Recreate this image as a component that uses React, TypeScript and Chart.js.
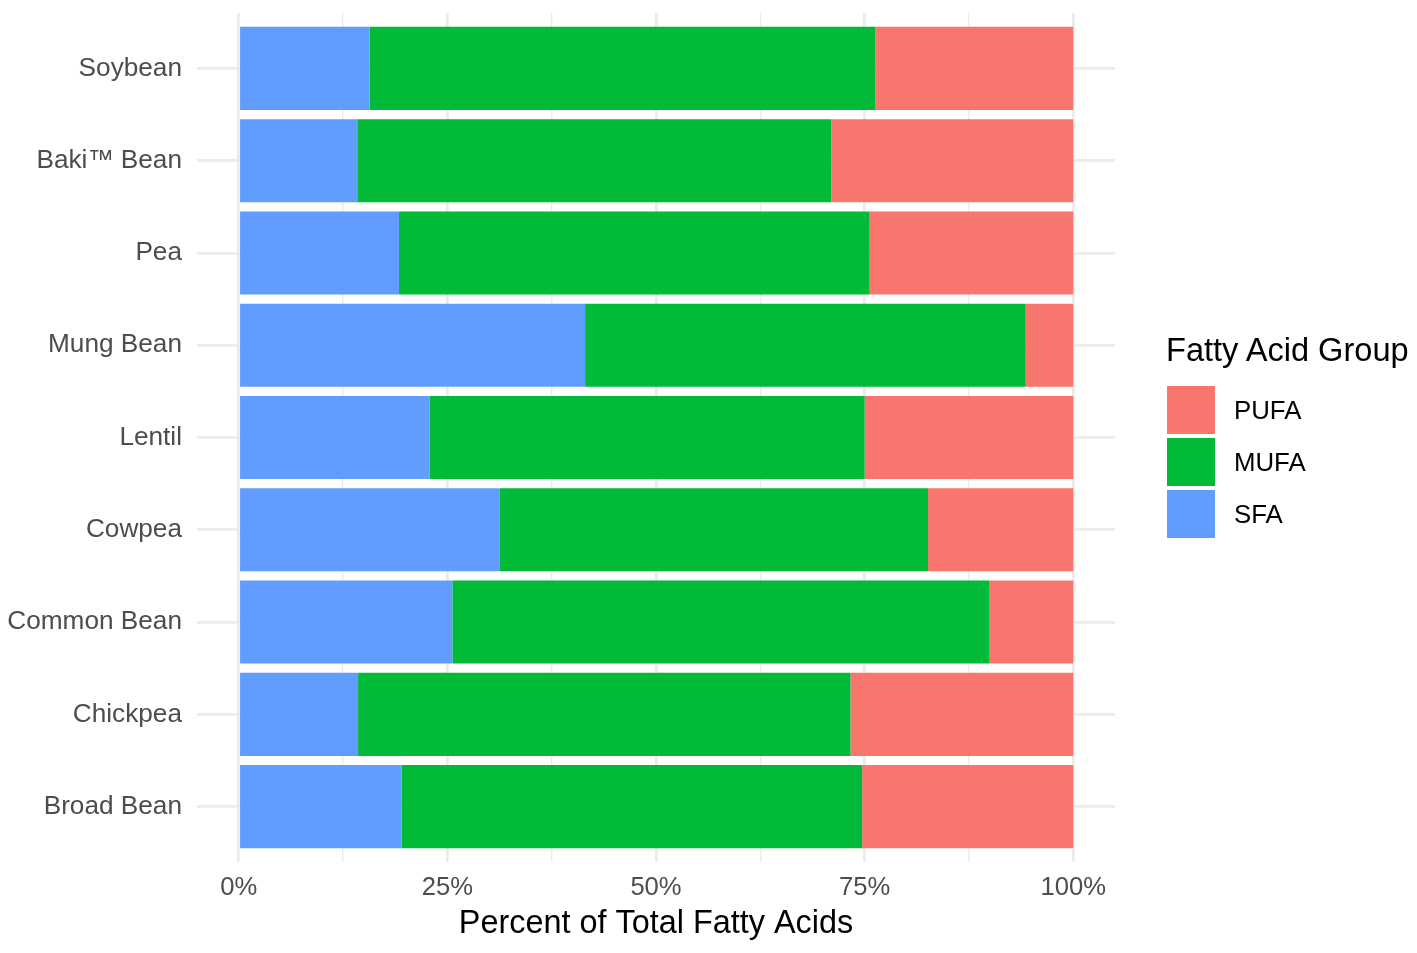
import React, { useEffect, useRef } from 'react';
import { Chart, registerables } from 'chart.js';

Chart.register(...registerables);

const categories = ['Soybean', 'Baki™ Bean', 'Pea', 'Mung Bean', 'Lentil', 'Cowpea', 'Common Bean', 'Chickpea', 'Broad Bean'];
const sfaValues = [15.7, 14.2, 19.2, 41.5, 22.9, 31.3, 25.6, 14.3, 19.5];
const mufaValues = [60.6, 56.8, 56.4, 52.8, 52.1, 51.3, 64.3, 59.0, 55.2];
const pufaValues = [23.7, 29.0, 24.4, 5.7, 25.0, 17.4, 10.1, 26.7, 25.3];
const xTicks = [0, 12.5, 25, 37.5, 50, 62.5, 75, 87.5, 100];

const series = [
    { label: 'SFA', data: sfaValues, color: '#619CFF' },
    { label: 'MUFA', data: mufaValues, color: '#00BA38' },
    { label: 'PUFA', data: pufaValues, color: '#F8766D' },
];

const FONT = "'Liberation Sans', Arial, sans-serif";

const FattyAcidChart: React.FC = () => {
    const chartRef = useRef<HTMLCanvasElement>(null);
    const chartInstance = useRef<Chart | null>(null);

    useEffect(() => {
        if (chartInstance.current) {
            chartInstance.current.destroy();
        }
        if (chartRef.current) {
            const ctx = chartRef.current.getContext('2d');
            if (ctx) {
                chartInstance.current = new Chart(ctx, {
                    type: 'bar',
                    data: {
                        labels: categories,
                        datasets: series.map((s) => ({
                            label: s.label,
                            data: s.data,
                            backgroundColor: s.color,
                            borderWidth: 0,
                            barPercentage: 0.9,
                            categoryPercentage: 1,
                        })),
                    },
                    options: {
                        indexAxis: 'y',
                        responsive: true,
                        maintainAspectRatio: false,
                        animation: false,
                        layout: { padding: { top: 13, right: 302, bottom: 0, left: 0 } },
                        plugins: {
                            legend: { display: false },
                            tooltip: { enabled: false },
                        },
                        scales: {
                            x: {
                                type: 'linear',
                                stacked: true,
                                min: -5,
                                max: 105,
                                afterBuildTicks: (scale: any) => {
                                    scale.ticks = xTicks.map((v) => ({ value: v }));
                                },
                                afterFit: (scale: any) => {
                                    scale.height = 91;
                                    scale.paddingLeft = 0;
                                    scale.paddingRight = 0;
                                },
                                border: { display: false },
                                grid: {
                                    color: '#ebebeb',
                                    drawTicks: false,
                                    lineWidth: (c: any) => (c.tick && c.tick.value % 25 === 0 ? 2.7 : 1.4),
                                },
                                ticks: {
                                    autoSkip: false,
                                    maxRotation: 0,
                                    padding: 11,
                                    color: '#4d4d4d',
                                    font: { family: FONT, size: 25.6 },
                                    callback: (v: any) => (Number(v) % 25 === 0 ? `${v}%` : ''),
                                },
                                title: {
                                    display: true,
                                    text: 'Percent of Total Fatty Acids',
                                    color: '#000000',
                                    font: { family: FONT, size: 32.4 },
                                    padding: { top: 0, bottom: 9 },
                                },
                            },
                            y: {
                                type: 'category',
                                stacked: true,
                                offset: true,
                                afterBuildTicks: (scale: any) => {
                                    // ggplot-style discrete expansion of 0.6 on each side
                                    scale._startValue = -0.6;
                                    scale._valueRange = categories.length - 1 + 1.2;
                                },
                                afterFit: (scale: any) => {
                                    scale.width = 197;
                                    scale.paddingTop = 0;
                                    scale.paddingBottom = 0;
                                },
                                border: { display: false },
                                grid: {
                                    offset: false,
                                    color: '#ebebeb',
                                    lineWidth: 2.7,
                                    drawTicks: false,
                                },
                                ticks: {
                                    padding: 15,
                                    color: '#4d4d4d',
                                    font: { family: FONT, size: 26.2 },
                                },
                            },
                        },
                    },
                });
            }
        }
        return () => {
            if (chartInstance.current) {
                chartInstance.current.destroy();
                chartInstance.current = null;
            }
        };
    }, []);

    return (
        <div style={{ position: 'absolute', left: 0, top: 0, width: 1417, height: 953 }}>
            <canvas ref={chartRef} />
        </div>
    );
};

const Legend: React.FC = () => (
    <div style={{ position: 'absolute', left: 1166, top: 328, fontFamily: FONT, color: '#000' }}>
        <div style={{ fontSize: 32.6, lineHeight: '44px', height: 44, whiteSpace: 'nowrap' }}>Fatty Acid Group</div>
        <div style={{ marginTop: 12 }}>
            {[...series].reverse().map((s) => (
                <div key={s.label} style={{ display: 'flex', alignItems: 'center', height: 52 }}>
                    <div style={{ width: 48, height: 48, marginLeft: 1, background: s.color }} />
                    <span style={{ marginLeft: 19, fontSize: 25.8, whiteSpace: 'nowrap' }}>{s.label}</span>
                </div>
            ))}
        </div>
    </div>
);

export default function App() {
    return (
        <div style={{ position: 'absolute', left: 0, top: 0, width: 1417, height: 953, background: '#ffffff' }}>
            <FattyAcidChart />
            <Legend />
        </div>
    );
}
